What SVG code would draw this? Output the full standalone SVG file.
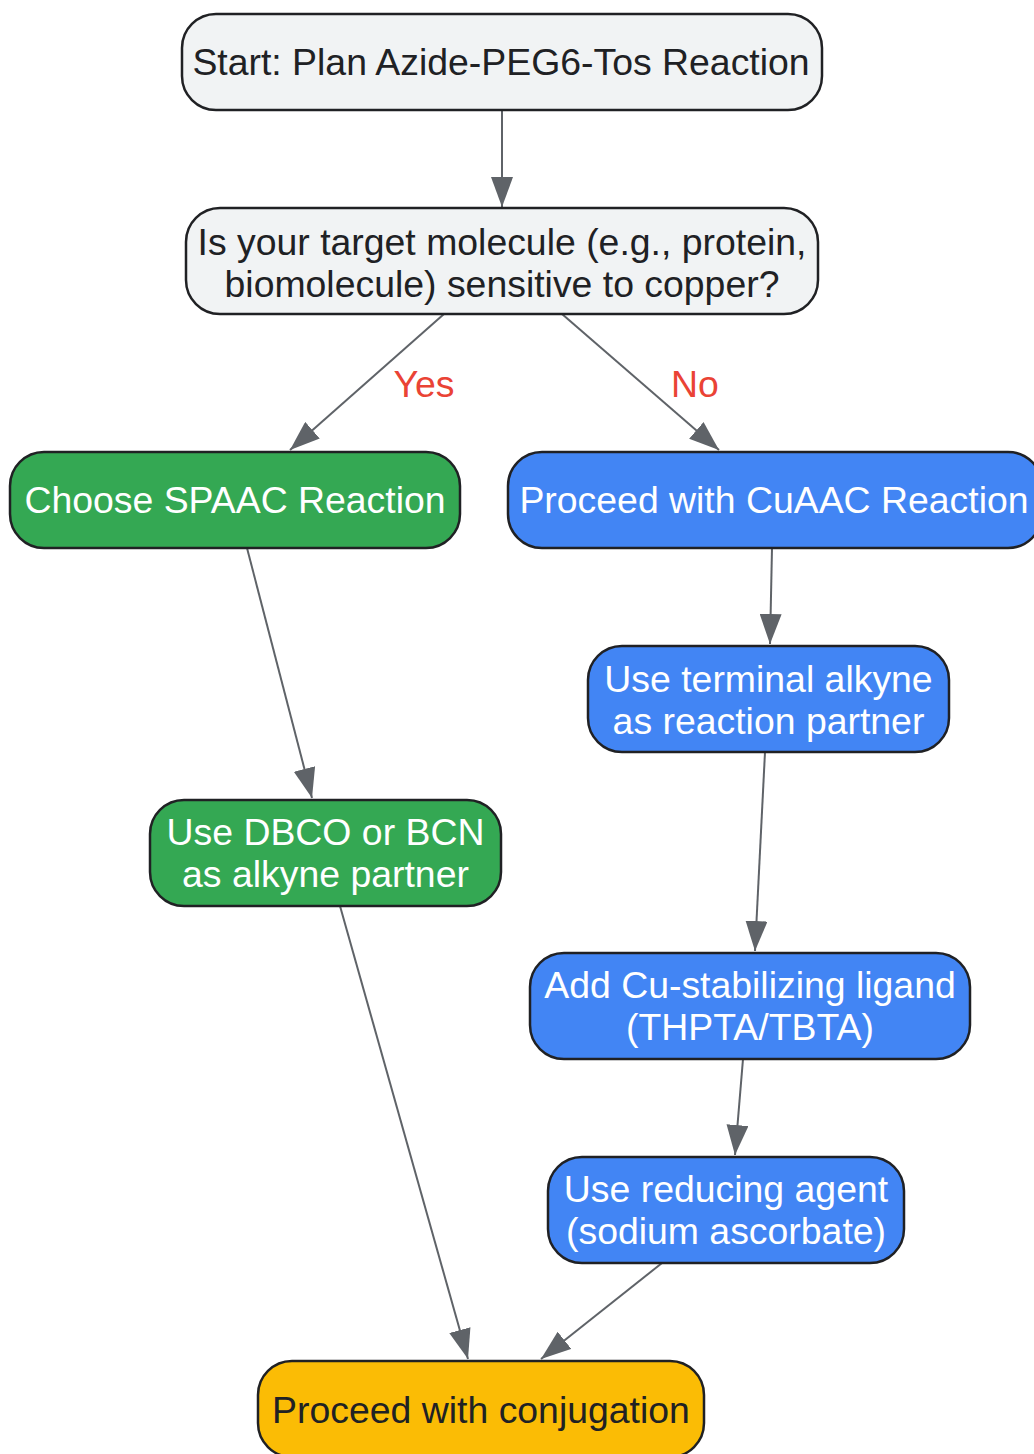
<svg xmlns="http://www.w3.org/2000/svg" width="1034" height="1454" viewBox="0 0 1034 1454">
<defs>
<marker id="arr" viewBox="0 0 30 22" refX="30" refY="11" markerWidth="30" markerHeight="22" markerUnits="userSpaceOnUse" orient="auto">
<path d="M0,0 L30,11 L0,22 Z" fill="#5f6368"/>
</marker>
<style>
.n{stroke:#202124;stroke-width:2.5}
.t{font-family:"Liberation Sans",Arial,sans-serif;font-size:37.4px;text-anchor:middle;dominant-baseline:central}
.dk{fill:#202124}
.wh{fill:#ffffff}
.e{stroke:#5f6368;stroke-width:2;fill:none;marker-end:url(#arr)}
.lbl{font-family:"Liberation Sans",Arial,sans-serif;font-size:37.4px;fill:#ea4335;text-anchor:middle;dominant-baseline:central}
</style>
</defs>
<rect width="1034" height="1454" fill="#ffffff"/>
<g id="connectors">
<line class="e" x1="502" y1="110" x2="502" y2="207"/>
<line class="e" x1="444" y1="314" x2="290" y2="450"/>
<line class="e" x1="562" y1="314" x2="719" y2="450"/>
<line class="e" x1="247" y1="548" x2="312" y2="798"/>
<line class="e" x1="772" y1="548" x2="770" y2="644"/>
<line class="e" x1="765" y1="752" x2="755" y2="951"/>
<line class="e" x1="743" y1="1059" x2="735" y2="1155"/>
<line class="e" x1="662" y1="1263" x2="541" y2="1359"/>
<line class="e" x1="340" y1="906" x2="468" y2="1359"/>
<text class="lbl" x="424" y="384">Yes</text>
<text class="lbl" x="695" y="384">No</text>
</g>
<g id="start">
<rect class="n" x="182" y="14" width="640" height="96" rx="34" fill="#f1f3f4"/>
<text class="t dk" x="501" y="62">Start: Plan Azide-PEG6-Tos Reaction</text>
</g>
<g id="question">
<rect class="n" x="186" y="208" width="632" height="106" rx="34" fill="#f1f3f4"/>
<text class="t dk" x="502" y="242">Is your target molecule (e.g., protein,</text>
<text class="t dk" x="502" y="284">biomolecule) sensitive to copper?</text>
</g>
<g id="spaac">
<rect class="n" x="10" y="452" width="450" height="96" rx="34" fill="#34a853"/>
<text class="t wh" x="235" y="500">Choose SPAAC Reaction</text>
</g>
<g id="cuaac">
<rect class="n" x="508" y="452" width="534" height="96" rx="34" fill="#4285f4"/>
<text class="t wh" x="774" y="500">Proceed with CuAAC Reaction</text>
</g>
<g id="terminal">
<rect class="n" x="588" y="646" width="361" height="106" rx="34" fill="#4285f4"/>
<text class="t wh" x="768.5" y="679">Use terminal alkyne</text>
<text class="t wh" x="768.5" y="721">as reaction partner</text>
</g>
<g id="dbco">
<rect class="n" x="150" y="800" width="351" height="106" rx="34" fill="#34a853"/>
<text class="t wh" x="325.5" y="832">Use DBCO or BCN</text>
<text class="t wh" x="325.5" y="874">as alkyne partner</text>
</g>
<g id="ligand">
<rect class="n" x="530" y="953" width="440" height="106" rx="34" fill="#4285f4"/>
<text class="t wh" x="750" y="985">Add Cu-stabilizing ligand</text>
<text class="t wh" x="750" y="1027">(THPTA/TBTA)</text>
</g>
<g id="reducing">
<rect class="n" x="548" y="1157" width="356" height="106" rx="34" fill="#4285f4"/>
<text class="t wh" x="726" y="1189">Use reducing agent</text>
<text class="t wh" x="726" y="1231">(sodium ascorbate)</text>
</g>
<g id="conjugation">
<rect class="n" x="258" y="1361" width="446" height="96" rx="34" fill="#fbbc05"/>
<text class="t dk" x="481" y="1410">Proceed with conjugation</text>
</g>
</svg>
